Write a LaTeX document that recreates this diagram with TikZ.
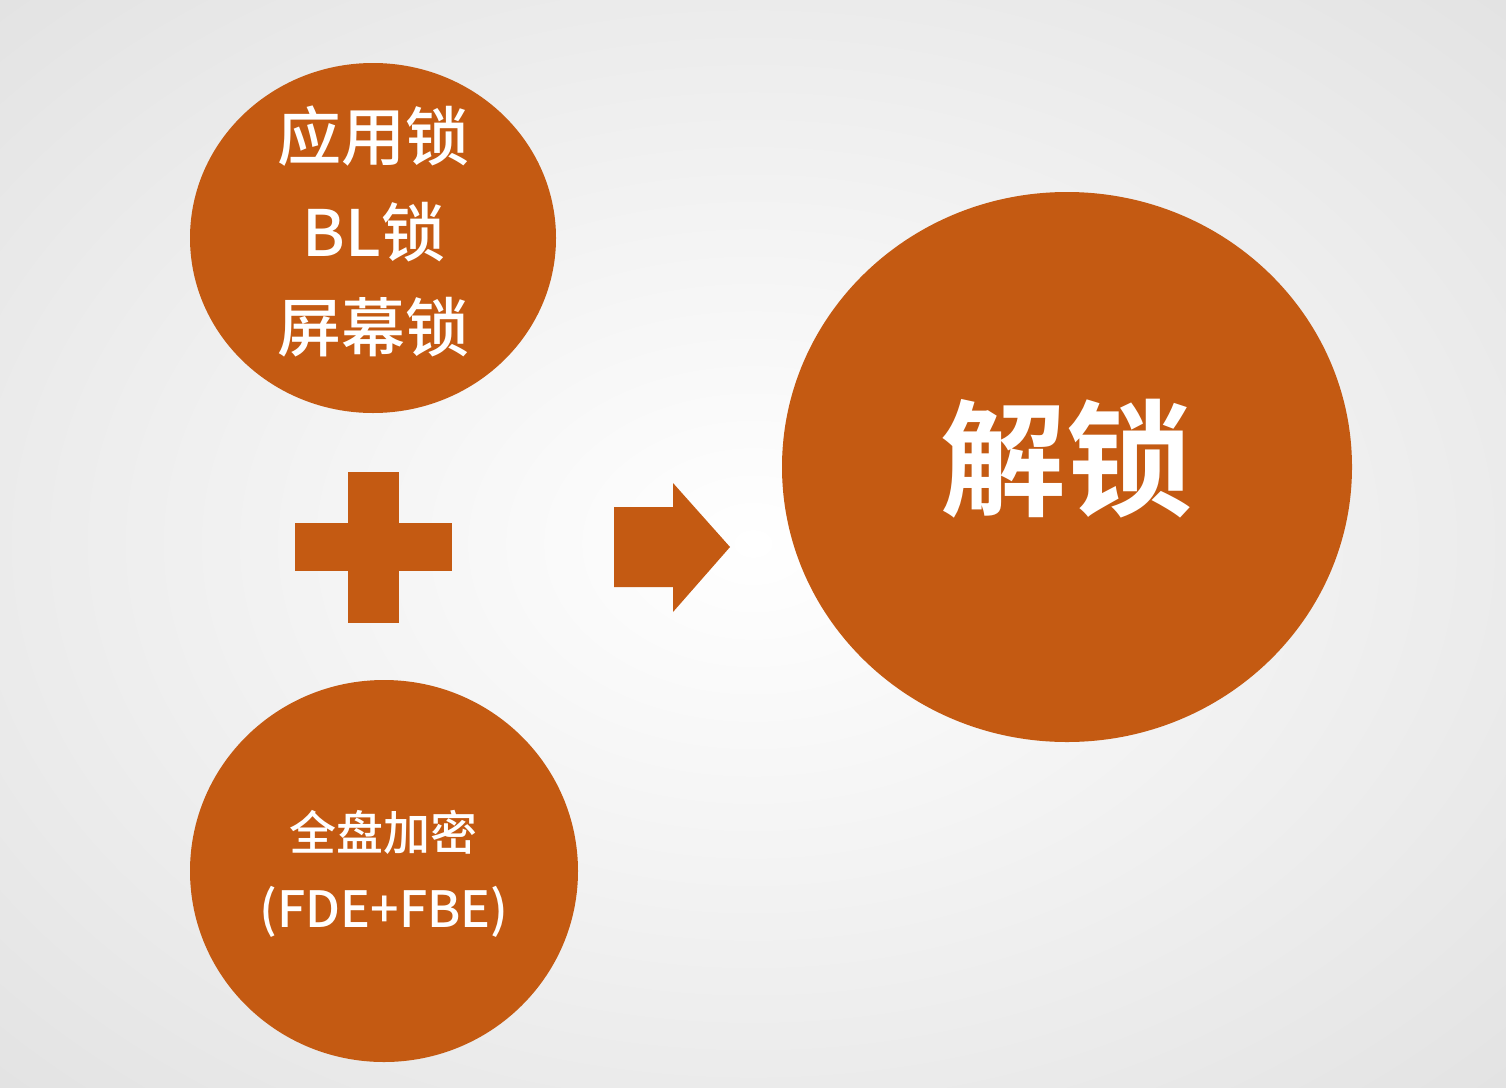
\documentclass[tikz,border=0pt]{standalone}
\usepackage{fontspec}
\setmainfont{Noto Sans CJK SC}[BoldFont={Noto Sans CJK SC Bold}]
\newfontfamily\medfont{Noto Sans CJK SC Medium}
\definecolor{accent}{HTML}{C45A12}
\definecolor{bgedge}{HTML}{E2E2E2}
\begin{document}
\begin{tikzpicture}[x=1pt,y=-1pt,
  blob/.style={fill=accent,draw=none},
  lbl/.style={text=white,anchor=base,inner sep=0pt,font=\medfont#1},
  lbl/.default=\fontsize{64}{64}\selectfont]
\useasboundingbox (0,0) rectangle (1506,1087);
\shade[inner color=white,outer color=bgedge] (-350,-250) rectangle (1856,1337);
% circles
\fill[blob] (373,238) ellipse [x radius=183, y radius=175];
\fill[blob] (1067,467) ellipse [x radius=285, y radius=275];
\fill[blob] (384,871) ellipse [x radius=194, y radius=191];
% plus
\fill[blob] (295,523) rectangle (452,571);
\fill[blob] (348,472) rectangle (399,623);
% arrow
\fill[blob] (614,507) -- (673,507) -- (673,483) -- (730,547) -- (673,612) -- (673,587) -- (614,587) -- cycle;
% texts
\node[lbl] (t1) at (373.5,160) {应用锁};
\node[lbl] (t2) at (374,256) {BL锁};
\node[lbl] (t3) at (373.5,351) {屏幕锁};
\node[lbl=\normalfont\bfseries\fontsize{126}{126}\selectfont] (t4) at (1066,506) {解锁};
\node[lbl=\fontsize{47}{47}\selectfont] (t5) at (383,850) {全盘加密};
\node[lbl=\fontsize{50}{50}\selectfont] (t6) at (384,927) {(FDE+FBE)};
\end{tikzpicture}
\end{document}
